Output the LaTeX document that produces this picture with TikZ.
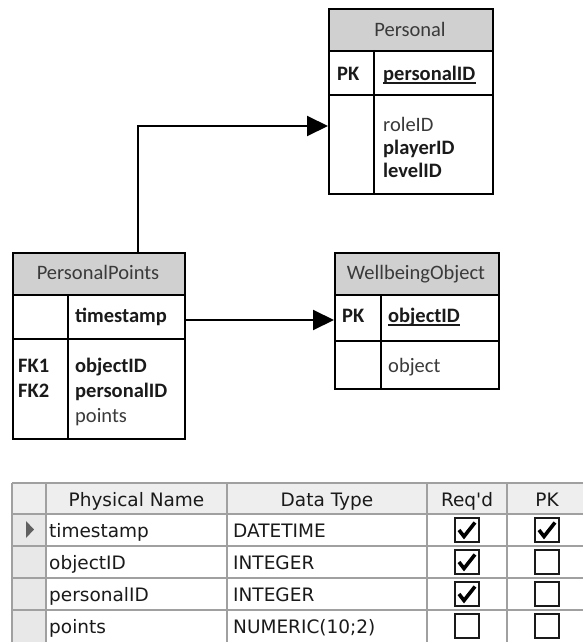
\documentclass[tikz,border=0pt]{standalone}
\usepackage{fontspec}
\setmainfont{Carlito}
\newfontfamily\gridfont{DejaVu Sans}
\usetikzlibrary{arrows.meta,calc}

\definecolor{hdrgray}{HTML}{D0D0D0}
\definecolor{ink}{HTML}{1A1A1A}
\definecolor{softink}{HTML}{3A3A3A}
\definecolor{gridline}{HTML}{A0A0A0}
\definecolor{tblhead}{HTML}{EEEEEE}
\definecolor{selcol}{HTML}{E8E8E8}
\definecolor{selmark}{HTML}{606060}

\newcommand\erfont{\fontsize{20.5}{24}\selectfont}
\newcommand\tblfont{\gridfont\fontsize{18.5}{22}\selectfont}

\tikzset{
  ebox/.style={draw=black, line width=2pt, inner sep=0pt, anchor=north west},
  ehead/.style={ebox, fill=hdrgray},
  divider/.style={draw=black, line width=2pt},
  etitle/.style={inner sep=0pt, anchor=base, font=\erfont, text=softink},
  eattr/.style={inner sep=0pt, anchor=base west, font=\erfont, text=softink},
  ekey/.style={inner sep=0pt, anchor=base west, font=\erfont\bfseries, text=ink},
  uline/.style={draw=ink, line width=1.5pt},
  conn/.style={draw=black, line width=2pt, -{Triangle[length=21pt,width=20pt]}},
  grid/.style={draw=gridline, line width=1.2pt},
  tcell/.style={inner sep=0pt, anchor=base west, font=\tblfont, text=ink},
  thead/.style={inner sep=0pt, anchor=base, font=\tblfont, text=ink},
  cbox/.pic={\draw[line width=2pt, draw=ink] (-12,-12) rectangle (12,12);},
  cboxon/.pic={\draw[line width=2pt, draw=ink] (-12,-12) rectangle (12,12);
    \draw[line width=3.6pt, draw=black, line join=miter] (-8,0) -- (-3,6.5) -- (8,-7.5);},
}

\begin{document}
\begin{tikzpicture}[x=1pt,y=-1pt]
\useasboundingbox[fill=white] (0,0) rectangle (582,642);

% ---------- Personal ----------
\node[ehead, minimum width=164, minimum height=42] (persHead) at (328,8) {};
\node[ebox, minimum width=164, minimum height=44] (persKey) at (328,50) {};
\node[ebox, minimum width=164, minimum height=99] (persAttr) at (328,94) {};
\draw[divider] (374,50) -- (374,193);
\node[etitle] (persTitle) at (410,37) {Personal};
\node[ekey] (persPK) at (337,80) {PK};
\node[ekey] (persId) at (383,80) {personalID};
\draw[uline] ($(persId.base west)+(0,3)$) -- ($(persId.base east)+(0,3)$);
\node[eattr] (persRole) at (383,131) {roleID};
\node[ekey] (persPlayer) at (383,154) {playerID};
\node[ekey] (persLevel) at (383,177) {levelID};

% ---------- PersonalPoints ----------
\node[ehead, minimum width=172, minimum height=42] (ppHead) at (12,252) {};
\node[ebox, minimum width=172, minimum height=44] (ppKey) at (12,294) {};
\node[ebox, minimum width=172, minimum height=100] (ppAttr) at (12,338) {};
\draw[divider] (68,294) -- (68,438);
\node[etitle] (ppTitle) at (98,279) {PersonalPoints};
\node[ekey] (ppTs) at (75,322) {timestamp};
\node[ekey] (ppFK1) at (18,372) {FK1};
\node[ekey] (ppFK2) at (18,397) {FK2};
\node[ekey] (ppObj) at (75,372) {objectID};
\node[ekey] (ppPers) at (75,397) {personalID};
\node[eattr] (ppPts) at (75,422) {points};

% ---------- WellbeingObject ----------
\node[ehead, minimum width=164, minimum height=42] (wbHead) at (334,252) {};
\node[ebox, minimum width=164, minimum height=46] (wbKey) at (334,294) {};
\node[ebox, minimum width=164, minimum height=48] (wbAttr) at (334,340) {};
\draw[divider] (381,294) -- (381,388);
\node[etitle] (wbTitle) at (416,279) {WellbeingObject};
\node[ekey] (wbPK) at (342,322) {PK};
\node[ekey] (wbId) at (388,322) {objectID};
\draw[uline] ($(wbId.base west)+(0,3)$) -- ($(wbId.base east)+(0,3)$);
\node[eattr] (wbObj) at (388,372) {object};

% ---------- relationships ----------
\path (ppHead.north west) ++(126,0) coordinate (ppLink);
\path (persAttr.north west) ++(0,32) coordinate (persLink);
\draw[conn] (ppLink) |- (persLink);
\path (ppKey.north east) ++(0,26) coordinate (ppTsLink);
\draw[conn] (ppTsLink) -- (wbKey.west |- ppTsLink);

% ---------- column grid ----------
\fill[tblhead] (12,483) rectangle (590,514);
\fill[selcol] (12,514) rectangle (46,650);
\foreach \yy in {483,514,546,578,610} \draw[grid] (12,\yy) -- (590,\yy);
\foreach \xx in {12,46,227,427,507,587} \draw[grid] (\xx,483) -- (\xx,650);
\fill[selmark] (26,521) -- (34,529.5) -- (26,538) -- cycle;

\node[thead] (hName) at (136.5,506) {Physical Name};
\node[thead] (hType) at (327,506) {Data Type};
\node[thead] (hReq) at (467,506) {Req\textquotesingle d};
\node[thead] (hPK) at (547,506) {PK};

\node[tcell] (r1n) at (49,537) {timestamp};
\node[tcell] (r1t) at (233,537) {DATETIME};
\node[tcell] (r2n) at (49,569) {objectID};
\node[tcell] (r2t) at (233,569) {INTEGER};
\node[tcell] (r3n) at (49,601) {personalID};
\node[tcell] (r3t) at (233,601) {INTEGER};
\node[tcell] (r4n) at (49,633) {points};
\node[tcell] (r4t) at (233,633) {NUMERIC(10;2)};

\pic (r1req) at (467,530) {cboxon};
\pic (r1pk) at (547,530) {cboxon};
\pic (r2req) at (467,562) {cboxon};
\pic (r2pk) at (547,562) {cbox};
\pic (r3req) at (467,594) {cboxon};
\pic (r3pk) at (547,594) {cbox};
\pic (r4req) at (467,626) {cbox};
\pic (r4pk) at (547,626) {cbox};
\end{tikzpicture}
\end{document}
